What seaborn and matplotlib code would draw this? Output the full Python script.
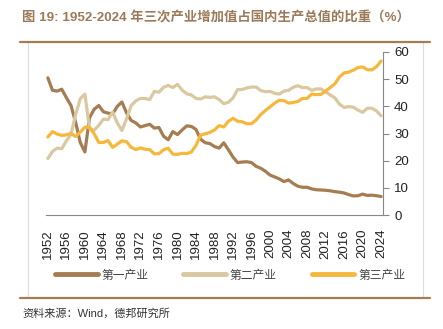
import numpy as np
import pandas as pd
import matplotlib
matplotlib.use("Agg")
import matplotlib.pyplot as plt
import seaborn as sns
from matplotlib.lines import Line2D
from matplotlib.patches import Rectangle

years = list(range(1952, 2025))
primary = [50.5, 45.9, 45.6, 46.3, 43.2, 40.3, 34.1, 26.7, 23.2, 35.8,
           38.9, 40.3, 38.0, 37.5, 37.2, 40.0, 41.6, 37.6, 34.8, 33.9,
           32.4, 32.9, 33.4, 32.0, 32.2, 29.0, 27.7, 30.7, 29.6, 31.3,
           32.8, 32.6, 31.5, 27.9, 26.6, 26.3, 25.2, 24.6, 26.6, 24.0,
           21.3, 19.3, 19.5, 19.6, 19.3, 17.9, 17.2, 16.1, 14.7, 14.0,
           13.3, 12.3, 12.9, 11.6, 10.6, 10.2, 10.2, 9.6, 9.3, 9.2,
           9.1, 8.9, 8.6, 8.4, 8.1, 7.5, 7.0, 7.1, 7.7, 7.2,
           7.3, 7.1, 6.8]
secondary = [20.8, 23.4, 24.6, 24.4, 27.3, 29.7, 37.0, 42.8, 44.5, 31.9,
             31.2, 33.0, 35.3, 35.1, 37.9, 33.9, 31.1, 35.4, 40.3, 42.0,
             42.9, 42.9, 42.5, 45.5, 45.2, 47.0, 47.7, 46.9, 48.1, 46.0,
             44.6, 44.2, 42.9, 42.7, 43.5, 43.3, 43.5, 42.5, 41.0, 41.5,
             43.1, 46.2, 46.2, 46.8, 47.1, 47.1, 45.8, 45.4, 45.5, 44.8,
             44.5, 45.6, 45.9, 47.0, 47.6, 46.9, 46.9, 45.9, 46.4, 46.4,
             45.3, 44.2, 43.1, 40.8, 39.6, 39.9, 39.7, 38.6, 37.8, 39.3,
             39.3, 38.3, 36.5]
tertiary = [28.7, 30.7, 29.8, 29.3, 29.5, 30.0, 28.9, 30.5, 32.3, 32.3,
            29.9, 26.7, 26.7, 27.4, 24.9, 26.1, 27.3, 27.0, 24.9, 24.1,
            24.7, 24.2, 24.1, 22.5, 22.6, 24.0, 24.6, 22.4, 22.3, 22.7,
            22.6, 23.2, 25.6, 29.4, 29.9, 30.4, 31.3, 32.9, 32.4, 34.5,
            35.6, 34.5, 34.3, 33.6, 33.6, 35.0, 37.0, 38.5, 39.8, 41.2,
            42.2, 42.1, 41.2, 41.4, 41.8, 42.9, 42.9, 44.5, 44.3, 44.4,
            45.6, 46.9, 48.3, 50.8, 52.3, 52.6, 53.3, 54.3, 54.5, 53.5,
            53.4, 54.6, 56.7]
series_names = ["第一产业", "第二产业", "第三产业"]
x_tick_labels = [str(y) for y in range(1952, 2025, 4)]
y_ticks = [0, 10, 20, 30, 40, 50, 60]

colors = ["#A67C52", "#D9C8A0", "#F6B83A"]

df = pd.DataFrame({"year": years * 3,
                   "value": primary + secondary + tertiary,
                   "series": [series_names[0]] * len(years)
                             + [series_names[1]] * len(years)
                             + [series_names[2]] * len(years)})

sns.set_theme(style="white")
plt.rcParams['font.family'] = ['Liberation Sans', 'Noto Sans CJK SC', 'DejaVu Sans']

W, H = 443, 329
fig = plt.figure(figsize=(W / 100, H / 100), dpi=100)
ax = fig.add_axes([46 / W, 1 - 215 / H, (383 - 46) / W, (215 - 52) / H])

sns.lineplot(data=df, x="year", y="value", hue="series", palette=colors,
             linewidth=2.3, ax=ax, legend=False)

ax.set_xlim(1951.6, 2024.4)
ax.set_ylim(0, 60)
ax.set_xlabel("")
ax.set_ylabel("")
ax.yaxis.tick_right()
ax.set_yticks(y_ticks)
ax.set_yticklabels([str(v) for v in y_ticks], fontsize=9.5, color="#222222")
ax.set_xticks(list(range(1952, 2025, 4)))
ax.set_xticklabels(x_tick_labels, rotation=90, fontsize=9.5, color="#222222")
ax.set_xticks(years, minor=True)
ax.tick_params(axis="x", which="major", length=4, width=0.8, color="#888888", pad=6, direction="out")
ax.tick_params(axis="x", which="minor", length=4, width=0.6, color="#aaaaaa", direction="out")
ax.tick_params(axis="y", which="major", length=4, width=0.8, color="#888888", pad=4, right=True, left=False)
for s in ["top", "left"]:
    ax.spines[s].set_visible(False)
ax.spines["bottom"].set_color("#888888")
ax.spines["bottom"].set_linewidth(0.8)
ax.spines["right"].set_color("#888888")
ax.spines["right"].set_linewidth(0.8)
ax.grid(False)

handles = [Line2D([0], [0], color=c, lw=3.5) for c in colors]
leg = fig.legend(handles, series_names, loc="center", bbox_to_anchor=(230 / W, 1 - 275 / H),
                 ncol=3, frameon=False, handlelength=3.6, columnspacing=3.0, handletextpad=0.3,
                 prop={"family": ["Noto Sans CJK SC"], "size": 8.5})
for t in leg.get_texts():
    t.set_color("#444444")

# frame and decorative lines
fig.add_artist(Rectangle((28 / W, 1 - 298 / H), (423 - 28) / W, (298 - 42) / H,
                         transform=fig.transFigure, fill=False, edgecolor="#dddddd", lw=0.8))
fig.add_artist(Line2D([20 / W, 430 / W], [1 - 42 / H, 1 - 42 / H], transform=fig.transFigure,
                      color="#A67C52", lw=1.6))
fig.add_artist(Line2D([20 / W, 430 / W], [1 - 298 / H, 1 - 298 / H], transform=fig.transFigure,
                      color="#A67C52", lw=1.6))

fig.text(22 / W, 1 - 18 / H, "图 19: 1952-2024 年三次产业增加值占国内生产总值的比重（%）",
         fontsize=9.6, fontweight="bold", color="#9C7A58", va="center", ha="left",
         family=['Liberation Sans', 'Noto Sans CJK SC'])
fig.text(22 / W, 1 - 313 / H, "资料来源：Wind，德邦研究所", fontsize=8, color="#333333",
         va="center", ha="left", family=['Liberation Sans', 'Noto Sans CJK SC'])

fig.savefig("out.png", dpi=100)
